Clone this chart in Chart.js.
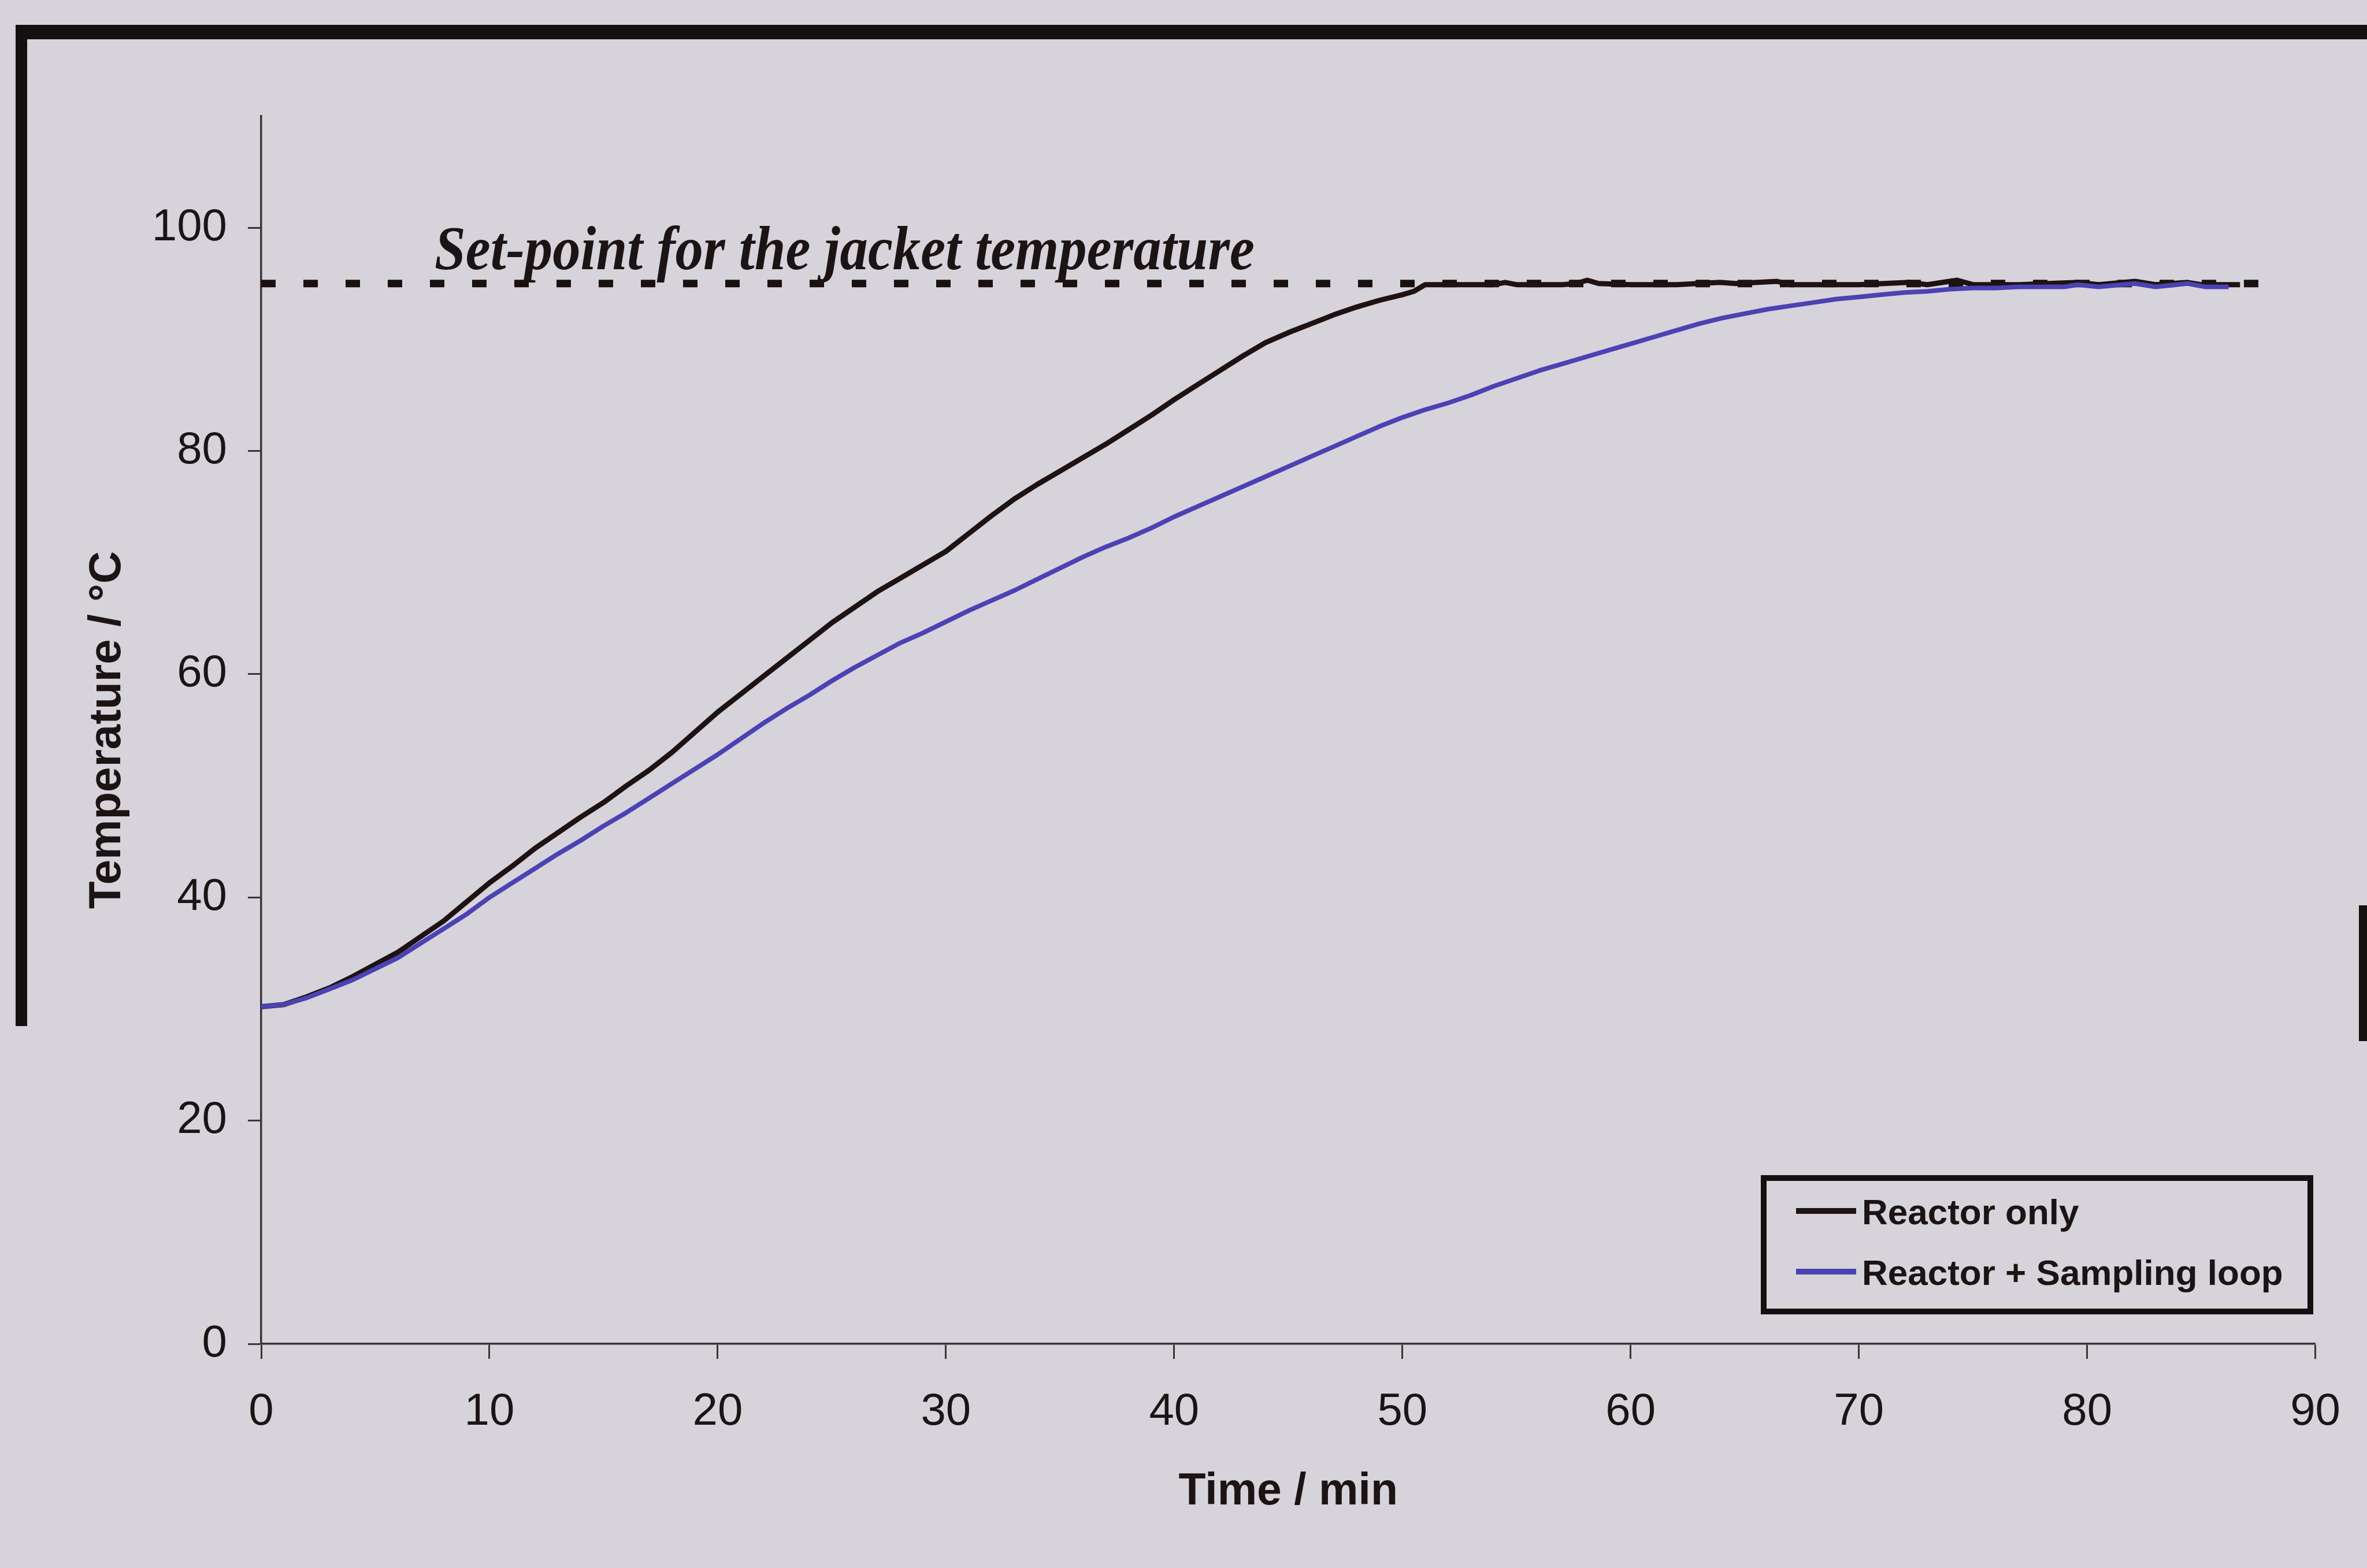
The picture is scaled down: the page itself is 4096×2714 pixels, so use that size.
<!DOCTYPE html>
<html>
<head>
<meta charset="utf-8">
<title>Reactor temperature</title>
<script src="https://cdn.jsdelivr.net/npm/chart.js@4.4.1/dist/chart.umd.min.js"></script>
<style>
  html, body { margin: 0; padding: 0; background: #d7d3db; overflow: hidden; }
  #chart { display: block; }
</style>
</head>
<body>
<canvas id="chart" width="4096" height="2714"></canvas>
<script>
// data
const seriesLabels = ['Reactor only', 'Reactor + Sampling loop'];

const timeReactor = [0, 1, 2, 3, 4, 5, 6, 7, 8, 9, 10, 11, 12, 13, 14, 15, 16, 17, 18, 19, 20,
  21, 22, 23, 24, 25, 26, 27, 28, 29, 30, 31, 32, 33, 34, 35, 36, 37, 38, 39, 40,
  41, 42, 43, 44, 45, 46, 47, 48, 49, 50, 50.5, 51, 52, 53, 54, 54.5, 55, 56, 57, 57.6, 58.1, 58.6,
  60, 62, 63.9, 64.6, 66.4, 67, 70, 72.2, 73, 74.3, 75, 77, 79.6, 80.5, 82.1, 83, 84.4, 85, 86.7];
const tempReactor = [30.2, 30.4, 31.1, 31.9, 32.9, 34.0, 35.1, 36.5, 37.9, 39.6, 41.3, 42.8, 44.4, 45.8, 47.2, 48.5, 50.0, 51.4, 53.0, 54.8, 56.6,
  58.2, 59.8, 61.4, 63.0, 64.6, 66.0, 67.4, 68.6, 69.8, 71.0, 72.6, 74.2, 75.7, 77.0, 78.2, 79.4, 80.6, 81.9, 83.2, 84.6,
  85.9, 87.2, 88.5, 89.7, 90.6, 91.4, 92.2, 92.9, 93.5, 94.0, 94.3, 94.9, 94.9, 94.9, 94.9, 95.1, 94.9, 94.9, 94.9, 95.0, 95.3, 95.0,
  94.9, 94.9, 95.1, 95.0, 95.2, 94.9, 94.9, 95.1, 94.9, 95.3, 94.9, 94.9, 95.1, 94.9, 95.2, 94.9, 95.1, 94.9, 94.9];

const timeLoop = [0, 1, 2, 3, 4, 5, 6, 7, 8, 9, 10, 11, 12, 13, 14, 15, 16, 17, 18, 19, 20,
  21, 22, 23, 24, 25, 26, 27, 28, 29, 30, 31, 32, 33, 34, 35, 36, 37, 38, 39, 40,
  41, 42, 43, 44, 45, 46, 47, 48, 49, 50, 51, 52, 53, 54, 55, 56, 57, 58, 59, 60,
  61, 62, 63, 64, 65, 66, 67, 68, 69, 70, 71, 72, 73, 74, 75, 76, 77, 78, 79, 79.6, 80.5, 82.1, 83, 84.4, 85.2, 86.2];
const tempLoop = [30.2, 30.4, 31.0, 31.8, 32.6, 33.6, 34.6, 35.9, 37.2, 38.5, 40.0, 41.3, 42.6, 43.9, 45.1, 46.4, 47.6, 48.9, 50.2, 51.5, 52.8,
  54.2, 55.6, 56.9, 58.1, 59.4, 60.6, 61.7, 62.8, 63.7, 64.7, 65.7, 66.6, 67.5, 68.5, 69.5, 70.5, 71.4, 72.2, 73.1, 74.1,
  75.0, 75.9, 76.8, 77.7, 78.6, 79.5, 80.4, 81.3, 82.2, 83.0, 83.7, 84.3, 85.0, 85.8, 86.5, 87.2, 87.8, 88.4, 89.0, 89.6,
  90.2, 90.8, 91.4, 91.9, 92.3, 92.7, 93.0, 93.3, 93.6, 93.8, 94.0, 94.2, 94.3, 94.5, 94.6, 94.6, 94.7, 94.7, 94.7, 94.9, 94.7, 95.0, 94.7, 95.0, 94.7, 94.7];

const setPointTime = [0, 88.6];
const setPointTemp = [95, 95];
const setPointLabel = 'Set-point for the jacket temperature';

const xTicks = [0, 10, 20, 30, 40, 50, 60, 70, 80, 90];
const yTicks = [0, 20, 40, 60, 80, 100];

// look
const BG = '#d7d3db';
const INK = '#1c1414';
const AXIS = '#3d3434';
const BLUE = '#4b42b3';
const SANS = '"Liberation Sans", Arial, sans-serif';
const SERIF = '"Liberation Serif", "Times New Roman", serif';

function toPoints(xs, ys) {
    return xs.map(function (x, i) { return { x: x, y: ys[i] }; });
}

// background + photo frame
const framePlugin = {
    id: 'frame',
    beforeDraw(chart) {
        const ctx = chart.ctx;
        ctx.save();
        ctx.fillStyle = BG;
        ctx.fillRect(0, 0, chart.width, chart.height);
        ctx.fillStyle = '#151010';
        ctx.fillRect(27, 43, chart.width - 27, 25);
        ctx.fillRect(27, 43, 20, 1733);
        ctx.fillRect(4082, 1567, 14, 235);
        ctx.restore();
    }
};

// text above the dotted set-point line
const setPointPlugin = {
    id: 'setPointText',
    afterDatasetsDraw(chart) {
        const ctx = chart.ctx;
        ctx.save();
        ctx.font = 'italic bold 109px ' + SERIF;
        ctx.fillStyle = INK;
        ctx.textBaseline = 'alphabetic';
        const w = ctx.measureText(setPointLabel).width;
        ctx.translate(752, 466);
        ctx.scale(1419 / w, 1);
        ctx.fillText(setPointLabel, 0, 0);
        ctx.restore();
    }
};

// boxed legend in the lower right corner
const legendPlugin = {
    id: 'boxLegend',
    afterDraw(chart) {
        const ctx = chart.ctx;
        const sets = chart.data.datasets.filter(function (d) { return seriesLabels.indexOf(d.label) >= 0; });
        ctx.save();
        ctx.fillStyle = BG;
        ctx.fillRect(3052, 2039, 946, 231);
        ctx.lineWidth = 10;
        ctx.strokeStyle = '#151010';
        ctx.strokeRect(3052, 2039, 946, 231);
        const rows = [2099, 2204];
        ctx.font = 'bold 62px ' + SANS;
        ctx.textBaseline = 'middle';
        sets.forEach(function (d, i) {
            ctx.beginPath();
            ctx.lineWidth = 10;
            ctx.strokeStyle = d.borderColor;
            ctx.moveTo(3108, rows[i] - 3);
            ctx.lineTo(3212, rows[i] - 3);
            ctx.stroke();
            ctx.fillStyle = INK;
            ctx.fillText(d.label, 3222, rows[i] + 3);
        });
        ctx.restore();
    }
};

const config = {
    type: 'line',
    data: {
        datasets: [
            {
                label: seriesLabels[0],
                data: toPoints(timeReactor, tempReactor),
                borderColor: '#1e1212',
                borderWidth: 9,
                pointRadius: 0,
                tension: 0,
                borderJoinStyle: 'round',
                order: 2
            },
            {
                label: seriesLabels[1],
                data: toPoints(timeLoop, tempLoop),
                borderColor: BLUE,
                borderWidth: 8,
                pointRadius: 0,
                tension: 0,
                borderJoinStyle: 'round',
                order: 1
            },
            {
                label: 'Set-point',
                data: toPoints(setPointTime, setPointTemp),
                borderColor: '#1a1010',
                borderWidth: 13,
                borderDash: [25, 48],
                borderCapStyle: 'butt',
                pointRadius: 0,
                order: 3
            }
        ]
    },
    options: {
        responsive: false,
        animation: false,
        devicePixelRatio: 1,
        layout: { padding: { left: 0, right: 84, top: 201, bottom: 0 } },
        plugins: {
            legend: { display: false },
            tooltip: { enabled: false }
        },
        scales: {
            x: {
                type: 'linear',
                position: 'bottom',
                min: 0,
                max: 90,
                afterBuildTicks: function (scale) { scale.ticks = xTicks.map(function (v) { return { value: v }; }); },
                afterFit: function (scale) { scale.height = 388; },
                grid: { drawOnChartArea: false, drawTicks: true, tickLength: 26, tickWidth: 3, tickColor: AXIS },
                border: { display: true, color: AXIS, width: 3.5 },
                ticks: { autoSkip: false, maxRotation: 0, minRotation: 0, padding: 46, color: INK, font: { family: SANS, size: 78 } },
                title: { display: true, text: 'Time / min', color: INK, font: { family: SANS, size: 77, weight: 'bold' }, padding: { top: 0, bottom: 85 } }
            },
            y: {
                type: 'linear',
                position: 'left',
                min: 0,
                max: 110,
                afterBuildTicks: function (scale) { scale.ticks = yTicks.map(function (v) { return { value: v }; }); },
                afterFit: function (scale) { scale.width = 452; },
                grid: { drawOnChartArea: false, drawTicks: true, tickLength: 23, tickWidth: 3, tickColor: AXIS },
                border: { display: true, color: AXIS, width: 3.5 },
                ticks: { padding: 36, color: INK, font: { family: SANS, size: 78 } },
                title: { display: true, text: 'Temperature / °C', color: INK, font: { family: SANS, size: 78, weight: 'bold' }, padding: { top: 140, bottom: 0 } }
            }
        }
    },
    plugins: [framePlugin, setPointPlugin, legendPlugin]
};

const myChart = new Chart(document.getElementById('chart'), config);
</script>
</body>
</html>
